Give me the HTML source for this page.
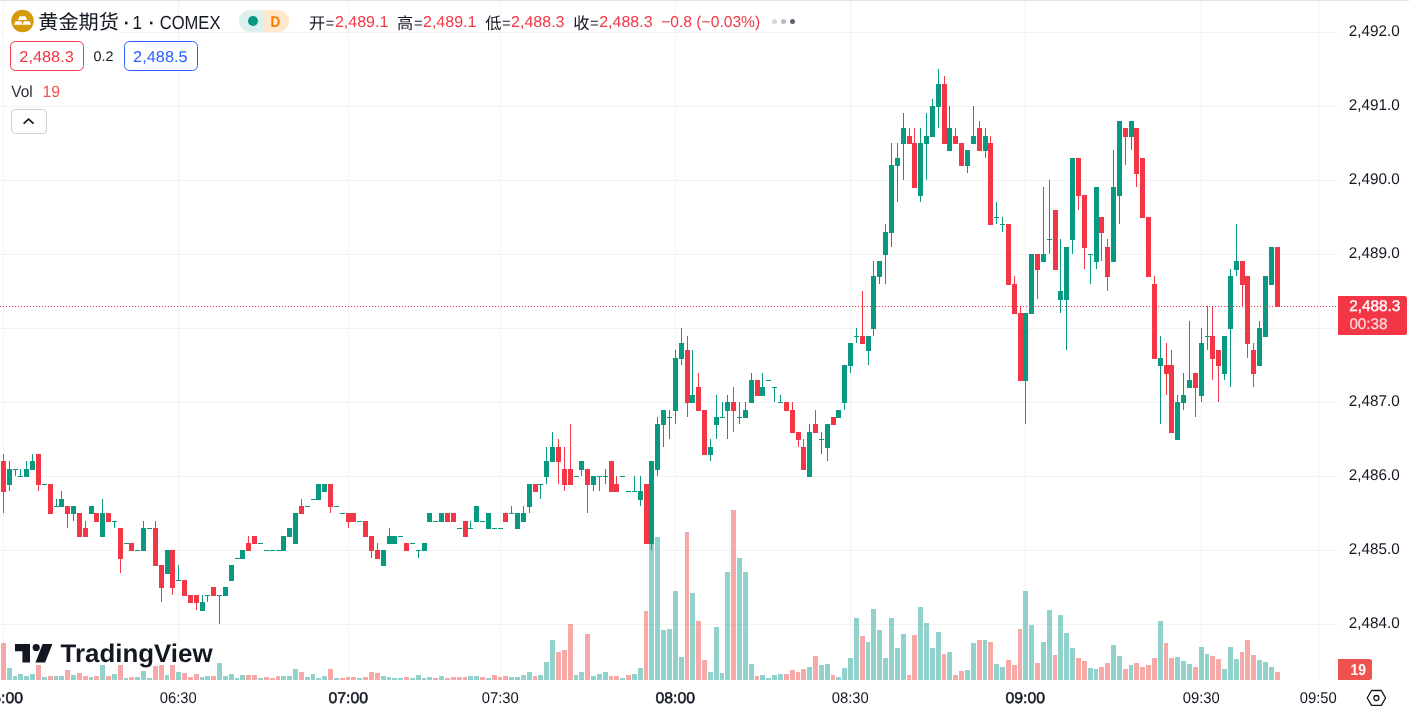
<!DOCTYPE html>
<html lang="zh-CN">
<head>
<meta charset="utf-8">
<title>黄金期货 · 1 · COMEX</title>
<style>
html,body{margin:0;padding:0;background:#ffffff;}
body{width:1409px;height:713px;overflow:hidden;position:relative;font-family:'Liberation Sans','Noto Sans CJK SC',sans-serif;}
svg text{white-space:pre;text-rendering:geometricPrecision;}
</style>
</head>
<body>
<svg width="1409" height="713" viewBox="0 0 1409 713" style="position:absolute;left:0;top:0;display:block">
<rect x="0" y="0" width="1409" height="713" fill="#ffffff"/>
<g shape-rendering="crispEdges" fill="#f2f3f3">
<rect x="0" y="624" width="1338" height="1"/>
<rect x="0" y="550" width="1338" height="1"/>
<rect x="0" y="476" width="1338" height="1"/>
<rect x="0" y="402" width="1338" height="1"/>
<rect x="0" y="328" width="1338" height="1"/>
<rect x="0" y="254" width="1338" height="1"/>
<rect x="0" y="180" width="1338" height="1"/>
<rect x="0" y="106" width="1338" height="1"/>
<rect x="0" y="32" width="1338" height="1"/>
<rect x="3" y="0" width="1" height="680"/>
<rect x="178" y="0" width="1" height="680"/>
<rect x="348" y="0" width="1" height="680"/>
<rect x="500" y="0" width="1" height="680"/>
<rect x="675" y="0" width="1" height="680"/>
<rect x="850" y="0" width="1" height="680"/>
<rect x="1025" y="0" width="1" height="680"/>
<rect x="1201" y="0" width="1" height="680"/>
<rect x="1318" y="0" width="1" height="680"/>
</g>
<g shape-rendering="crispEdges">
<path fill="rgba(38,166,154,0.5)" d="M7 668h5v12h-5zM13 676h4v4h-4zM18 674h5v6h-5zM24 676h5v4h-5zM30 674h5v6h-5zM42 677h5v3h-5zM54 676h4v4h-4zM59 676h5v4h-5zM71 675h5v5h-5zM89 677h4v3h-4zM100 665h5v15h-5zM112 674h5v6h-5zM124 678h4v2h-4zM135 677h5v3h-5zM141 671h5v9h-5zM147 678h5v2h-5zM165 675h4v5h-4zM176 672h5v8h-5zM200 677h4v3h-4zM205 676h5v4h-5zM217 663h5v17h-5zM223 676h5v4h-5zM229 674h5v6h-5zM235 678h4v2h-4zM240 675h5v5h-5zM258 678h5v2h-5zM281 676h5v4h-5zM287 676h5v4h-5zM293 669h5v11h-5zM305 677h5v3h-5zM311 674h4v6h-4zM316 678h5v2h-5zM322 676h5v4h-5zM334 678h5v2h-5zM357 678h5v2h-5zM381 676h5v4h-5zM387 677h4v3h-4zM392 678h5v2h-5zM398 678h5v2h-5zM410 678h5v2h-5zM416 675h5v5h-5zM422 678h4v2h-4zM427 677h5v3h-5zM439 676h5v4h-5zM468 676h5v4h-5zM474 676h5v4h-5zM486 678h5v2h-5zM509 677h5v3h-5zM515 677h5v3h-5zM521 675h5v5h-5zM527 672h5v8h-5zM538 675h5v5h-5zM544 662h5v18h-5zM550 640h5v40h-5zM574 675h4v5h-4zM579 672h5v8h-5zM591 676h5v4h-5zM597 674h5v6h-5zM603 672h5v8h-5zM620 678h5v2h-5zM632 674h5v6h-5zM638 668h5v12h-5zM649 540h5v140h-5zM655 537h5v143h-5zM661 630h5v50h-5zM667 629h5v51h-5zM673 591h5v89h-5zM679 657h5v23h-5zM690 593h5v87h-5zM708 672h5v8h-5zM714 627h5v53h-5zM720 673h4v7h-4zM725 572h5v108h-5zM737 558h5v122h-5zM743 572h5v108h-5zM749 664h5v16h-5zM760 675h5v5h-5zM766 678h5v2h-5zM772 675h5v5h-5zM778 674h5v6h-5zM807 667h5v13h-5zM819 665h5v15h-5zM825 664h5v16h-5zM836 677h5v3h-5zM842 668h5v12h-5zM848 658h5v22h-5zM854 618h5v62h-5zM866 642h4v38h-4zM871 609h5v71h-5zM877 630h5v50h-5zM883 658h5v22h-5zM889 618h5v62h-5zM895 648h5v32h-5zM901 634h5v46h-5zM918 607h5v73h-5zM924 623h5v57h-5zM930 648h5v32h-5zM936 632h5v48h-5zM947 652h5v28h-5zM965 670h5v10h-5zM971 643h5v37h-5zM983 640h4v40h-4zM994 664h5v16h-5zM1000 667h5v13h-5zM1023 591h5v89h-5zM1029 625h5v55h-5zM1041 642h5v38h-5zM1047 610h5v70h-5zM1058 615h5v65h-5zM1064 633h5v47h-5zM1070 648h5v32h-5zM1088 668h5v12h-5zM1094 669h4v11h-4zM1111 645h5v35h-5zM1117 656h5v24h-5zM1129 665h4v15h-4zM1158 621h5v59h-5zM1175 657h5v23h-5zM1181 661h5v19h-5zM1187 664h5v16h-5zM1199 647h5v33h-5zM1205 654h4v26h-4zM1222 669h5v11h-5zM1228 647h5v33h-5zM1234 659h5v21h-5zM1257 660h5v20h-5zM1263 662h5v18h-5zM1269 667h5v13h-5z"/>
<path fill="rgba(239,83,80,0.5)" d="M1 643h5v37h-5zM36 665h5v15h-5zM48 676h5v4h-5zM65 670h5v10h-5zM77 673h5v7h-5zM83 676h5v4h-5zM94 676h5v4h-5zM106 676h5v4h-5zM118 665h5v15h-5zM129 677h5v3h-5zM153 666h5v14h-5zM159 665h5v15h-5zM170 665h5v15h-5zM182 673h5v7h-5zM188 677h5v3h-5zM194 674h5v6h-5zM211 676h5v4h-5zM246 675h5v5h-5zM252 675h5v5h-5zM264 677h5v3h-5zM270 678h5v2h-5zM276 676h4v4h-4zM299 672h5v8h-5zM328 669h5v11h-5zM340 678h5v2h-5zM346 677h4v3h-4zM351 677h5v3h-5zM363 677h5v3h-5zM369 672h5v8h-5zM375 673h5v7h-5zM404 677h5v3h-5zM433 678h5v2h-5zM445 678h5v2h-5zM451 677h5v3h-5zM457 677h5v3h-5zM463 677h4v3h-4zM480 677h5v3h-5zM492 675h5v5h-5zM498 677h4v3h-4zM503 676h5v4h-5zM533 676h4v4h-4zM556 652h5v28h-5zM562 650h5v30h-5zM568 624h5v56h-5zM585 634h5v46h-5zM609 676h4v4h-4zM614 676h5v4h-5zM626 675h5v5h-5zM644 611h4v69h-4zM685 532h4v148h-4zM696 621h5v59h-5zM702 660h5v20h-5zM731 510h5v170h-5zM755 676h4v4h-4zM784 674h5v6h-5zM790 670h5v10h-5zM796 672h4v8h-4zM801 669h5v11h-5zM813 656h5v24h-5zM831 675h4v5h-4zM860 636h5v44h-5zM907 675h4v5h-4zM912 635h5v45h-5zM942 654h4v26h-4zM953 675h5v5h-5zM959 671h5v9h-5zM977 640h5v40h-5zM988 642h5v38h-5zM1006 660h5v20h-5zM1012 665h5v15h-5zM1018 629h4v51h-4zM1035 663h5v17h-5zM1053 655h4v25h-4zM1076 658h5v22h-5zM1082 661h5v19h-5zM1099 667h5v13h-5zM1105 663h5v17h-5zM1123 669h5v11h-5zM1134 663h5v17h-5zM1140 667h5v13h-5zM1146 665h5v15h-5zM1152 658h5v22h-5zM1164 643h4v37h-4zM1169 658h5v22h-5zM1193 667h5v13h-5zM1210 656h5v24h-5zM1216 659h5v21h-5zM1240 652h4v28h-4zM1245 640h5v40h-5zM1251 655h5v25h-5zM1275 672h5v8h-5z"/>
</g>
<g shape-rendering="crispEdges">
<path fill="#089981" d="M9 461h1v30h-1zM7 469h5v16h-5zM15 469h1v7h-1zM13 469h5v1h-5zM20 469h1v7h-1zM18 476h5v1h-5zM26 461h1v15h-1zM24 469h5v8h-5zM32 454h1v15h-1zM30 461h5v9h-5zM42 484h5v1h-5zM56 499h1v7h-1zM54 506h5v1h-5zM61 491h1v15h-1zM59 499h5v8h-5zM73 506h1v15h-1zM71 506h5v8h-5zM91 506h1v7h-1zM89 506h5v8h-5zM102 499h1v37h-1zM100 513h5v24h-5zM114 521h1v7h-1zM112 521h5v1h-5zM124 543h5v1h-5zM135 550h5v1h-5zM143 521h1v29h-1zM141 528h5v23h-5zM147 528h5v1h-5zM167 550h1v23h-1zM165 550h5v24h-5zM178 565h1v15h-1zM176 580h5v1h-5zM202 595h1v15h-1zM200 602h5v9h-5zM207 595h1v7h-1zM205 595h5v1h-5zM219 595h1v29h-1zM217 595h5v1h-5zM225 587h1v8h-1zM223 587h5v9h-5zM231 565h1v15h-1zM229 565h5v16h-5zM235 558h5v1h-5zM242 550h1v8h-1zM240 550h5v9h-5zM258 543h5v1h-5zM264 550h5v1h-5zM270 550h5v1h-5zM276 550h5v1h-5zM283 536h1v14h-1zM281 536h5v15h-5zM289 528h1v8h-1zM287 528h5v9h-5zM295 513h1v30h-1zM293 513h5v31h-5zM305 506h5v1h-5zM311 499h5v1h-5zM318 484h1v15h-1zM316 484h5v16h-5zM324 484h1v7h-1zM322 484h5v8h-5zM334 506h5v1h-5zM340 513h5v1h-5zM357 521h5v1h-5zM383 550h1v15h-1zM381 550h5v16h-5zM389 528h1v15h-1zM387 536h5v8h-5zM394 536h1v7h-1zM392 536h5v8h-5zM398 536h5v1h-5zM410 543h5v1h-5zM418 550h1v8h-1zM416 550h5v1h-5zM424 543h1v7h-1zM422 543h5v8h-5zM429 513h1v8h-1zM427 513h5v9h-5zM433 521h5v1h-5zM441 513h1v8h-1zM439 513h5v9h-5zM457 528h5v1h-5zM470 521h1v7h-1zM468 528h5v1h-5zM476 506h1v15h-1zM474 506h5v16h-5zM480 521h5v1h-5zM488 513h1v15h-1zM486 513h5v16h-5zM492 528h5v1h-5zM498 528h5v1h-5zM511 506h1v7h-1zM509 513h5v1h-5zM517 513h1v15h-1zM515 513h5v16h-5zM523 506h1v15h-1zM521 513h5v9h-5zM529 484h1v29h-1zM527 484h5v23h-5zM540 484h1v15h-1zM538 484h5v1h-5zM546 447h1v37h-1zM544 461h5v16h-5zM552 432h1v29h-1zM550 447h5v15h-5zM574 476h5v1h-5zM581 461h1v15h-1zM579 461h5v9h-5zM593 476h1v15h-1zM591 476h5v9h-5zM599 476h1v15h-1zM597 476h5v1h-5zM605 469h1v15h-1zM603 476h5v1h-5zM620 476h5v1h-5zM626 491h5v1h-5zM634 476h1v15h-1zM632 491h5v1h-5zM640 476h1v30h-1zM638 491h5v9h-5zM651 461h1v89h-1zM649 461h5v83h-5zM657 417h1v59h-1zM655 424h5v46h-5zM663 410h1v37h-1zM661 410h5v15h-5zM669 410h1v29h-1zM667 417h5v1h-5zM675 350h1v74h-1zM673 358h5v53h-5zM681 328h1v37h-1zM679 343h5v16h-5zM692 350h1v52h-1zM690 395h5v8h-5zM710 439h1v22h-1zM708 447h5v8h-5zM716 395h1v44h-1zM714 417h5v8h-5zM722 402h1v15h-1zM720 417h5v1h-5zM727 395h1v44h-1zM725 402h5v9h-5zM739 402h1v22h-1zM737 417h5v1h-5zM745 402h1v15h-1zM743 410h5v8h-5zM751 373h1v29h-1zM749 380h5v23h-5zM762 373h1v22h-1zM760 387h5v9h-5zM766 380h5v1h-5zM774 387h1v15h-1zM772 387h5v1h-5zM780 395h1v7h-1zM778 402h5v1h-5zM809 424h1v52h-1zM807 432h5v45h-5zM821 432h1v22h-1zM819 439h5v1h-5zM827 424h1v37h-1zM825 424h5v24h-5zM838 410h1v7h-1zM836 410h5v8h-5zM844 365h1v45h-1zM842 365h5v38h-5zM850 343h1v30h-1zM848 343h5v23h-5zM856 328h1v15h-1zM854 336h5v1h-5zM868 336h1v29h-1zM866 336h5v15h-5zM873 261h1v75h-1zM871 276h5v53h-5zM879 261h1v23h-1zM877 261h5v16h-5zM885 224h1v60h-1zM883 232h5v23h-5zM891 143h1v104h-1zM889 165h5v68h-5zM897 143h1v59h-1zM895 158h5v8h-5zM903 113h1v67h-1zM901 128h5v16h-5zM920 128h1v74h-1zM918 143h5v53h-5zM926 113h1v67h-1zM924 136h5v8h-5zM932 99h1v37h-1zM930 106h5v31h-5zM938 69h1v59h-1zM936 84h5v23h-5zM949 106h1v44h-1zM947 128h5v23h-5zM967 150h1v23h-1zM965 150h5v16h-5zM973 106h1v37h-1zM971 136h5v8h-5zM985 128h1v30h-1zM983 136h5v15h-5zM996 202h1v22h-1zM994 217h5v1h-5zM1002 217h1v15h-1zM1000 224h5v1h-5zM1025 313h1v111h-1zM1023 313h5v68h-5zM1031 254h1v59h-1zM1029 254h5v60h-5zM1043 187h1v74h-1zM1041 254h5v8h-5zM1049 180h1v74h-1zM1047 239h5v1h-5zM1060 239h1v74h-1zM1058 291h5v9h-5zM1066 247h1v103h-1zM1064 247h5v53h-5zM1072 158h1v96h-1zM1070 158h5v82h-5zM1090 254h1v30h-1zM1088 254h5v1h-5zM1096 187h1v82h-1zM1094 187h5v75h-5zM1113 150h1v111h-1zM1111 187h5v75h-5zM1119 121h1v103h-1zM1117 121h5v75h-5zM1131 121h1v29h-1zM1129 121h5v16h-5zM1160 336h1v88h-1zM1158 358h5v8h-5zM1177 395h1v44h-1zM1175 402h5v38h-5zM1183 373h1v37h-1zM1181 395h5v8h-5zM1189 321h1v66h-1zM1187 380h5v8h-5zM1201 328h1v74h-1zM1199 343h5v53h-5zM1207 306h1v44h-1zM1205 336h5v1h-5zM1224 336h1v44h-1zM1222 336h5v38h-5zM1230 269h1v118h-1zM1228 276h5v53h-5zM1236 224h1v52h-1zM1234 261h5v9h-5zM1259 321h1v44h-1zM1257 328h5v38h-5zM1265 276h1v60h-1zM1263 276h5v61h-5zM1271 247h1v37h-1zM1269 247h5v38h-5z"/>
<path fill="#F23645" d="M3 454h1v59h-1zM1 461h5v31h-5zM38 454h1v37h-1zM36 454h5v31h-5zM50 484h1v29h-1zM48 484h5v30h-5zM67 506h1v22h-1zM65 506h5v8h-5zM79 513h1v23h-1zM77 513h5v24h-5zM85 521h1v15h-1zM83 528h5v9h-5zM96 513h1v8h-1zM94 513h5v9h-5zM108 513h1v8h-1zM106 513h5v9h-5zM120 528h1v45h-1zM118 528h5v31h-5zM131 543h1v7h-1zM129 543h5v8h-5zM155 521h1v44h-1zM153 528h5v38h-5zM161 565h1v37h-1zM159 565h5v23h-5zM172 550h1v45h-1zM170 550h5v38h-5zM184 580h1v15h-1zM182 580h5v16h-5zM190 595h1v7h-1zM188 595h5v8h-5zM196 595h1v15h-1zM194 595h5v8h-5zM213 587h1v8h-1zM211 587h5v9h-5zM248 536h1v14h-1zM246 543h5v8h-5zM254 536h1v7h-1zM252 536h5v8h-5zM301 499h1v14h-1zM299 506h5v8h-5zM330 484h1v29h-1zM328 484h5v23h-5zM348 513h1v15h-1zM346 513h5v9h-5zM353 513h1v8h-1zM351 513h5v9h-5zM365 521h1v15h-1zM363 521h5v16h-5zM371 536h1v22h-1zM369 536h5v15h-5zM377 543h1v15h-1zM375 550h5v9h-5zM406 543h1v7h-1zM404 543h5v8h-5zM447 513h1v8h-1zM445 513h5v9h-5zM453 513h1v8h-1zM451 513h5v9h-5zM465 521h1v15h-1zM463 521h5v16h-5zM505 513h1v8h-1zM503 513h5v9h-5zM535 484h1v7h-1zM533 484h5v8h-5zM558 439h1v45h-1zM556 447h5v15h-5zM564 447h1v44h-1zM562 469h5v16h-5zM570 424h1v60h-1zM568 469h5v16h-5zM587 469h1v44h-1zM585 469h5v16h-5zM611 461h1v30h-1zM609 461h5v31h-5zM616 476h1v15h-1zM614 484h5v8h-5zM646 484h1v59h-1zM644 484h5v60h-5zM687 336h1v81h-1zM685 350h5v53h-5zM698 373h1v37h-1zM696 387h5v24h-5zM704 410h1v44h-1zM702 410h5v45h-5zM733 387h1v45h-1zM731 402h5v9h-5zM757 380h1v15h-1zM755 380h5v16h-5zM786 402h1v8h-1zM784 402h5v9h-5zM792 402h1v30h-1zM790 410h5v23h-5zM798 432h1v15h-1zM796 432h5v8h-5zM803 439h1v30h-1zM801 447h5v23h-5zM815 410h1v22h-1zM813 424h5v9h-5zM833 417h1v7h-1zM831 417h5v8h-5zM862 291h1v52h-1zM860 336h5v8h-5zM909 128h1v15h-1zM907 136h5v8h-5zM914 128h1v59h-1zM912 143h5v45h-5zM944 76h1v67h-1zM942 84h5v60h-5zM955 128h1v15h-1zM953 136h5v8h-5zM961 143h1v22h-1zM959 143h5v23h-5zM979 121h1v29h-1zM977 128h5v23h-5zM990 136h1v88h-1zM988 143h5v82h-5zM1008 224h1v60h-1zM1006 224h5v61h-5zM1014 276h1v37h-1zM1012 284h5v30h-5zM1020 306h1v74h-1zM1018 313h5v68h-5zM1037 254h1v45h-1zM1035 254h5v16h-5zM1055 210h1v59h-1zM1053 210h5v60h-5zM1078 158h1v52h-1zM1076 158h5v38h-5zM1084 195h1v74h-1zM1082 195h5v53h-5zM1101 217h1v44h-1zM1099 217h5v16h-5zM1107 239h1v52h-1zM1105 247h5v30h-5zM1125 128h1v37h-1zM1123 128h5v9h-5zM1136 128h1v59h-1zM1134 128h5v46h-5zM1142 158h1v59h-1zM1140 158h5v60h-5zM1148 217h1v59h-1zM1146 217h5v60h-5zM1154 276h1v82h-1zM1152 284h5v75h-5zM1166 343h1v52h-1zM1164 365h5v9h-5zM1171 350h1v82h-1zM1169 365h5v68h-5zM1195 373h1v44h-1zM1193 373h5v15h-5zM1212 306h1v74h-1zM1210 336h5v23h-5zM1218 350h1v52h-1zM1216 350h5v16h-5zM1242 261h1v45h-1zM1240 261h5v24h-5zM1247 276h1v82h-1zM1245 276h5v68h-5zM1253 343h1v44h-1zM1251 350h5v24h-5zM1277 247h1v59h-1zM1275 247h5v60h-5z"/>
</g>
<line x1="0" y1="306.5" x2="1338" y2="306.5" stroke="#F23645" stroke-width="1" stroke-dasharray="1 2" shape-rendering="crispEdges"/>
<rect x="0" y="0" width="1409" height="1" fill="#dfe2ea" shape-rendering="crispEdges"/>
<rect x="4" y="32" width="115" height="1" fill="#ffffff"/>
<circle cx="22.5" cy="21" r="11.2" fill="#D39B0B"/>
<g fill="#ffffff"><path d="M19.6 16.3h5.8l1.7 3.6h-9.2z"/><path d="M15.5 21.3h5.6l1.5 3.5h-8.7z" /><path d="M23.9 21.3h5.6l1.6 3.5h-8.7z"/></g>
<text x="38.3" y="29.0" font-family="'Liberation Sans', 'Noto Sans CJK SC', sans-serif" font-size="20" font-weight="400" fill="#131722" text-anchor="start" textLength="80.6" lengthAdjust="spacingAndGlyphs" >黄金期货</text>
<text x="123.7" y="28.6" font-family="'Liberation Sans', sans-serif" font-size="18" font-weight="700" fill="#131722" text-anchor="start" >·</text>
<text x="132.6" y="28.6" font-family="'Liberation Sans', sans-serif" font-size="19" font-weight="400" fill="#131722" text-anchor="start" textLength="9.6" lengthAdjust="spacingAndGlyphs" >1</text>
<text x="148.7" y="28.6" font-family="'Liberation Sans', sans-serif" font-size="18" font-weight="700" fill="#131722" text-anchor="start" >·</text>
<text x="159.7" y="28.6" font-family="'Liberation Sans', sans-serif" font-size="19" font-weight="400" fill="#131722" text-anchor="start" textLength="60.8" lengthAdjust="spacingAndGlyphs" >COMEX</text>
<path d="M250 10h14v22h-14a11 11 0 0 1 0-22z" fill="#DCF1EE"/>
<path d="M264 10h14a11 11 0 0 1 0 22h-14z" fill="#FFE8CC"/>
<circle cx="253" cy="21" r="5" fill="#089981"/>
<text x="275.3" y="26.6" font-family="'Liberation Sans', sans-serif" font-size="15.5" font-weight="700" fill="#F57C00" text-anchor="middle" textLength="9.8" lengthAdjust="spacingAndGlyphs" >D</text>
<text x="309.0" y="28.8" font-family="'Liberation Sans', 'Noto Sans CJK SC', sans-serif" font-size="16.25" font-weight="400" fill="#131722" text-anchor="start" textLength="16.25" lengthAdjust="spacingAndGlyphs" >开</text>
<text x="325.8" y="28.0" font-family="'Liberation Sans', sans-serif" font-size="15" font-weight="400" fill="#131722" text-anchor="start" textLength="8.6" lengthAdjust="spacingAndGlyphs" >=</text>
<text x="334.9" y="27.0" font-family="'Liberation Sans', sans-serif" font-size="15.7" font-weight="400" fill="#F23645" text-anchor="start" textLength="53.4" lengthAdjust="spacingAndGlyphs" >2,489.1</text>
<text x="397.1" y="28.8" font-family="'Liberation Sans', 'Noto Sans CJK SC', sans-serif" font-size="16.25" font-weight="400" fill="#131722" text-anchor="start" textLength="16.25" lengthAdjust="spacingAndGlyphs" >高</text>
<text x="413.90000000000003" y="28.0" font-family="'Liberation Sans', sans-serif" font-size="15" font-weight="400" fill="#131722" text-anchor="start" textLength="8.6" lengthAdjust="spacingAndGlyphs" >=</text>
<text x="423.0" y="27.0" font-family="'Liberation Sans', sans-serif" font-size="15.7" font-weight="400" fill="#F23645" text-anchor="start" textLength="53.4" lengthAdjust="spacingAndGlyphs" >2,489.1</text>
<text x="485.2" y="28.8" font-family="'Liberation Sans', 'Noto Sans CJK SC', sans-serif" font-size="16.25" font-weight="400" fill="#131722" text-anchor="start" textLength="16.25" lengthAdjust="spacingAndGlyphs" >低</text>
<text x="502.0" y="28.0" font-family="'Liberation Sans', sans-serif" font-size="15" font-weight="400" fill="#131722" text-anchor="start" textLength="8.6" lengthAdjust="spacingAndGlyphs" >=</text>
<text x="511.09999999999997" y="27.0" font-family="'Liberation Sans', sans-serif" font-size="15.7" font-weight="400" fill="#F23645" text-anchor="start" textLength="53.4" lengthAdjust="spacingAndGlyphs" >2,488.3</text>
<text x="573.3" y="28.8" font-family="'Liberation Sans', 'Noto Sans CJK SC', sans-serif" font-size="16.25" font-weight="400" fill="#131722" text-anchor="start" textLength="16.25" lengthAdjust="spacingAndGlyphs" >收</text>
<text x="590.0999999999999" y="28.0" font-family="'Liberation Sans', sans-serif" font-size="15" font-weight="400" fill="#131722" text-anchor="start" textLength="8.6" lengthAdjust="spacingAndGlyphs" >=</text>
<text x="599.1999999999999" y="27.0" font-family="'Liberation Sans', sans-serif" font-size="15.7" font-weight="400" fill="#F23645" text-anchor="start" textLength="53.4" lengthAdjust="spacingAndGlyphs" >2,488.3</text>
<text x="661.2" y="27.0" font-family="'Liberation Sans', sans-serif" font-size="15.7" font-weight="400" fill="#F23645" text-anchor="start" textLength="99" lengthAdjust="spacingAndGlyphs" >−0.8 (−0.03%)</text>
<circle cx="774.5" cy="21.5" r="2.5" fill="#D5D7DE"/>
<circle cx="783.5" cy="21.5" r="2.5" fill="#B8BAC3"/>
<circle cx="792.5" cy="21.5" r="2.5" fill="#5D606B"/>
<rect x="10.5" y="41.5" width="73" height="29" rx="5" ry="5" fill="#ffffff" stroke="#F23645" stroke-width="1"/>
<text x="19.3" y="62.0" font-family="'Liberation Sans', sans-serif" font-size="15.7" font-weight="400" fill="#F23645" text-anchor="start" textLength="54.5" lengthAdjust="spacingAndGlyphs" >2,488.3</text>
<text x="93.4" y="61.2" font-family="'Liberation Sans', sans-serif" font-size="14" font-weight="400" fill="#131722" text-anchor="start" textLength="20" lengthAdjust="spacingAndGlyphs" >0.2</text>
<rect x="124.5" y="41.5" width="73" height="29" rx="5" ry="5" fill="#ffffff" stroke="#2962FF" stroke-width="1"/>
<text x="133.1" y="62.0" font-family="'Liberation Sans', sans-serif" font-size="15.7" font-weight="400" fill="#2962FF" text-anchor="start" textLength="54.5" lengthAdjust="spacingAndGlyphs" >2,488.5</text>
<text x="11.2" y="97.0" font-family="'Liberation Sans', sans-serif" font-size="16.25" font-weight="400" fill="#2A2E39" text-anchor="start" textLength="21.5" lengthAdjust="spacingAndGlyphs" >Vol</text>
<text x="42.5" y="97.0" font-family="'Liberation Sans', sans-serif" font-size="16.25" font-weight="400" fill="#EF5350" text-anchor="start" textLength="17.5" lengthAdjust="spacingAndGlyphs" >19</text>
<rect x="11.5" y="109.5" width="35" height="24" rx="3.5" ry="3.5" fill="#ffffff" stroke="#CDD0DA" stroke-width="1"/>
<path d="M23.6 123.6 L28.6 119.1 L33.6 123.6" fill="none" stroke="#131722" stroke-width="1.6"/>
<text x="1348.7" y="628.05" font-family="'Liberation Sans', sans-serif" font-size="15.5" font-weight="400" fill="#131722" text-anchor="start" textLength="51" lengthAdjust="spacingAndGlyphs" >2,484.0</text>
<text x="1348.7" y="554.05" font-family="'Liberation Sans', sans-serif" font-size="15.5" font-weight="400" fill="#131722" text-anchor="start" textLength="51" lengthAdjust="spacingAndGlyphs" >2,485.0</text>
<text x="1348.7" y="480.05" font-family="'Liberation Sans', sans-serif" font-size="15.5" font-weight="400" fill="#131722" text-anchor="start" textLength="51" lengthAdjust="spacingAndGlyphs" >2,486.0</text>
<text x="1348.7" y="406.05" font-family="'Liberation Sans', sans-serif" font-size="15.5" font-weight="400" fill="#131722" text-anchor="start" textLength="51" lengthAdjust="spacingAndGlyphs" >2,487.0</text>
<text x="1348.7" y="332.05" font-family="'Liberation Sans', sans-serif" font-size="15.5" font-weight="400" fill="#131722" text-anchor="start" textLength="51" lengthAdjust="spacingAndGlyphs" >2,488.0</text>
<text x="1348.7" y="258.05" font-family="'Liberation Sans', sans-serif" font-size="15.5" font-weight="400" fill="#131722" text-anchor="start" textLength="51" lengthAdjust="spacingAndGlyphs" >2,489.0</text>
<text x="1348.7" y="184.05" font-family="'Liberation Sans', sans-serif" font-size="15.5" font-weight="400" fill="#131722" text-anchor="start" textLength="51" lengthAdjust="spacingAndGlyphs" >2,490.0</text>
<text x="1348.7" y="110.05" font-family="'Liberation Sans', sans-serif" font-size="15.5" font-weight="400" fill="#131722" text-anchor="start" textLength="51" lengthAdjust="spacingAndGlyphs" >2,491.0</text>
<text x="1348.7" y="36.05" font-family="'Liberation Sans', sans-serif" font-size="15.5" font-weight="400" fill="#131722" text-anchor="start" textLength="51" lengthAdjust="spacingAndGlyphs" >2,492.0</text>
<path d="M1338 296h66.5a2.5 2.5 0 0 1 2.5 2.5v34a2.5 2.5 0 0 1 -2.5 2.5h-66.5z" fill="#F23645"/>
<text x="1349.2" y="310.9" font-family="'Liberation Sans', sans-serif" font-size="15.5" font-weight="400" fill="#ffffff" text-anchor="start" textLength="51.2" lengthAdjust="spacingAndGlyphs" stroke="#ffffff" stroke-width="0.35">2,488.3</text>
<text x="1349.4" y="328.8" font-family="'Liberation Sans', sans-serif" font-size="15.5" font-weight="400" fill="#ffffff" text-anchor="start" textLength="38" lengthAdjust="spacingAndGlyphs" fill-opacity="0.8" stroke="#ffffff" stroke-width="0.3" stroke-opacity="0.6">00:38</text>
<path d="M1338 659h31.5a2.5 2.5 0 0 1 2.5 2.5v16a2.5 2.5 0 0 1 -2.5 2.5h-31.5z" fill="#EF5350"/>
<text x="1350.5" y="674.7" font-family="'Liberation Sans', sans-serif" font-size="15.6" font-weight="700" fill="#ffffff" text-anchor="start" textLength="15.5" lengthAdjust="spacingAndGlyphs" >19</text>
<text x="3.2" y="703.0" font-family="'Liberation Sans', sans-serif" font-size="15.5" font-weight="400" fill="#131722" text-anchor="middle" textLength="39.6" lengthAdjust="spacingAndGlyphs" stroke="#131722" stroke-width="0.5">06:00</text>
<text x="178.2" y="703.0" font-family="'Liberation Sans', sans-serif" font-size="15.5" font-weight="400" fill="#131722" text-anchor="middle" textLength="37" lengthAdjust="spacingAndGlyphs" >06:30</text>
<text x="348.2" y="703.0" font-family="'Liberation Sans', sans-serif" font-size="15.5" font-weight="400" fill="#131722" text-anchor="middle" textLength="39.6" lengthAdjust="spacingAndGlyphs" stroke="#131722" stroke-width="0.5">07:00</text>
<text x="500.2" y="703.0" font-family="'Liberation Sans', sans-serif" font-size="15.5" font-weight="400" fill="#131722" text-anchor="middle" textLength="37" lengthAdjust="spacingAndGlyphs" >07:30</text>
<text x="675.2" y="703.0" font-family="'Liberation Sans', sans-serif" font-size="15.5" font-weight="400" fill="#131722" text-anchor="middle" textLength="39.6" lengthAdjust="spacingAndGlyphs" stroke="#131722" stroke-width="0.5">08:00</text>
<text x="850.2" y="703.0" font-family="'Liberation Sans', sans-serif" font-size="15.5" font-weight="400" fill="#131722" text-anchor="middle" textLength="37" lengthAdjust="spacingAndGlyphs" >08:30</text>
<text x="1025.2" y="703.0" font-family="'Liberation Sans', sans-serif" font-size="15.5" font-weight="400" fill="#131722" text-anchor="middle" textLength="39.6" lengthAdjust="spacingAndGlyphs" stroke="#131722" stroke-width="0.5">09:00</text>
<text x="1201.2" y="703.0" font-family="'Liberation Sans', sans-serif" font-size="15.5" font-weight="400" fill="#131722" text-anchor="middle" textLength="37" lengthAdjust="spacingAndGlyphs" >09:30</text>
<text x="1318.2" y="703.0" font-family="'Liberation Sans', sans-serif" font-size="15.5" font-weight="400" fill="#131722" text-anchor="middle" textLength="37" lengthAdjust="spacingAndGlyphs" >09:50</text>
<path d="M1367.2 698 L1371.6 690.5 L1381.3 690.5 L1385.6 698 L1381.3 705.4 L1371.6 705.4 Z" fill="none" stroke="#131722" stroke-width="1.3" stroke-linejoin="round"/>
<circle cx="1376.4" cy="698" r="2.5" fill="none" stroke="#131722" stroke-width="1.3"/>
<g fill="#131722">
<path d="M15 644h15v18.5h-7.6v-11.3h-7.4z"/>
<circle cx="36.2" cy="647.6" r="3.6"/>
<path d="M42.6 644h9.8l-7.3 18.5h-9.6z"/>
</g>
<text x="60.6" y="662.4" font-family="'Liberation Sans', sans-serif" font-size="25.5" font-weight="700" fill="#131722" text-anchor="start" textLength="152" lengthAdjust="spacingAndGlyphs" >TradingView</text>
</svg>
</body>
</html>
